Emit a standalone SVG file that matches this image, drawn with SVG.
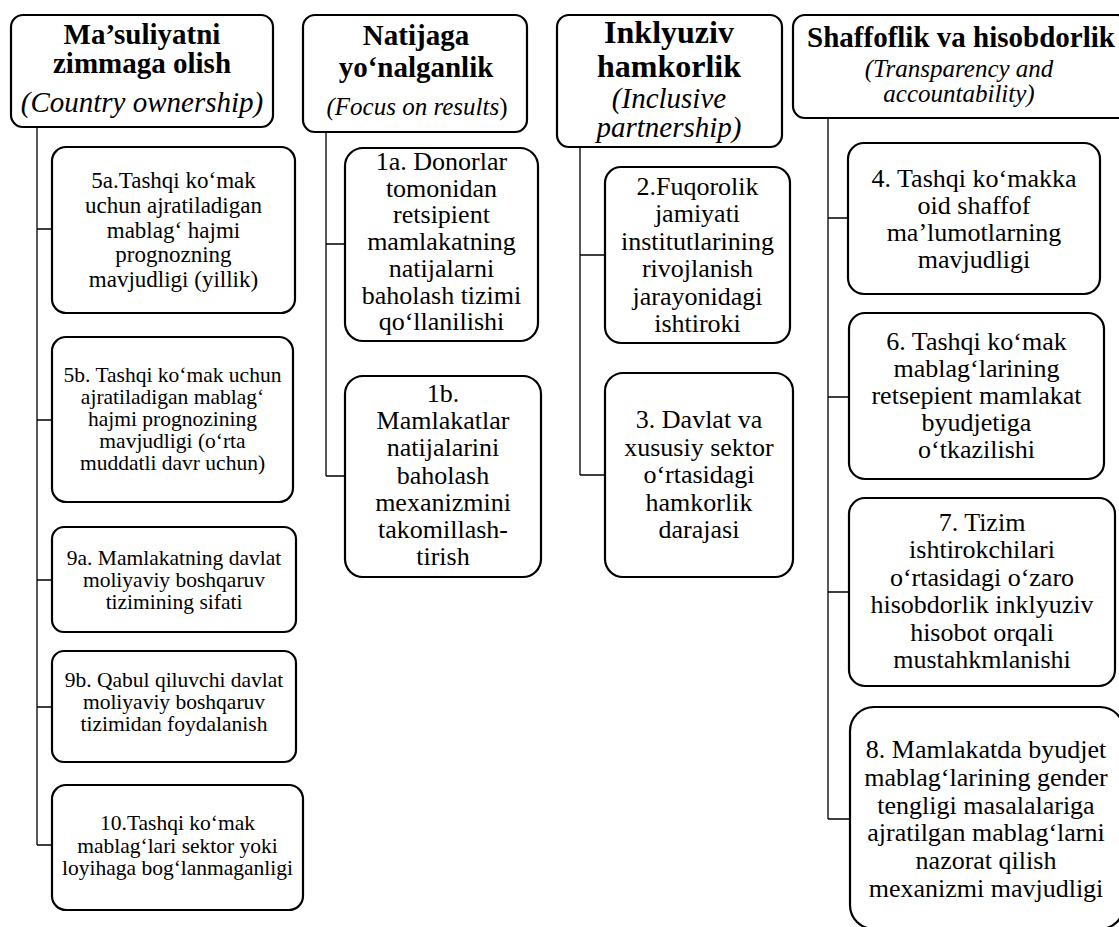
<svg xmlns="http://www.w3.org/2000/svg" width="1119" height="927" viewBox="0 0 1119 927">
  <style>
    .box { fill: #ffffff; stroke: #000000; stroke-width: 2.2; }
    .link { fill: none; stroke: #000000; stroke-width: 1.3; }
    .hb { font-weight: bold; }
    .hi { font-style: italic; }
    .c1 { font-size: 21.5px; }
    .c1a { font-size: 23px; }
    .cx { font-size: 26px; }
  </style>
  <rect width="1119" height="927" fill="#ffffff"/>

  <!-- tree connectors -->
  <g id="connectors">
    <path class="link" d="M37 127 V845 M37 229 H52 M37 420 H52 M37 580 H52 M37 707 H52 M37 845 H52"/>
    <path class="link" d="M326 132 V476 M326 244 H345 M326 476 H345"/>
    <path class="link" d="M580 147 V475 M580 255 H605 M580 475 H605"/>
    <path class="link" d="M828 118 V819 M828 218 H849 M828 397 H849 M828 592 H849 M828 819 H850"/>
  </g>

  <g font-family="Liberation Serif, Tinos, DejaVu Serif, Times New Roman, serif" text-anchor="middle" fill="#000000">
  <!-- column headers -->
  <g id="head-ownership">
    <rect class="box" x="11" y="15" width="262" height="112" rx="12"/>
    <text class="hb" font-size="29"><tspan x="142" y="44">Ma’suliyatni</tspan><tspan x="142" y="73">zimmaga olish</tspan></text>
    <text class="hi" font-size="29" x="142" y="112">(Country ownership)</text>
  </g>
  <g id="head-results">
    <rect class="box" x="303" y="15" width="224" height="117" rx="12"/>
    <text class="hb" font-size="29"><tspan x="416" y="45">Natijaga</tspan><tspan x="416" y="77">yo‘nalganlik</tspan></text>
    <text class="hi" font-size="25" x="417" y="115">(Focus on results<tspan font-style="normal">)</tspan></text>
  </g>
  <g id="head-partnership">
    <rect class="box" x="557" y="15" width="225" height="132" rx="12"/>
    <text class="hb" font-size="32"><tspan x="669" y="43">Inklyuziv</tspan><tspan x="669" y="77">hamkorlik</tspan></text>
    <text class="hi" font-size="29"><tspan x="669" y="108">(Inclusive</tspan><tspan x="669" y="137">partnership)</tspan></text>
  </g>
  <g id="head-transparency">
    <rect class="box" x="793" y="15" width="336" height="103" rx="12"/>
    <text class="hb" font-size="29" x="961" y="47">Shaffoflik va hisobdorlik</text>
    <text class="hi" font-size="25"><tspan x="959" y="77">(Transparency and</tspan><tspan x="959" y="102">accountability)</tspan></text>
  </g>

  <!-- column 1 -->
  <g id="n5a">
    <rect class="box" x="52" y="147" width="243" height="166" rx="14"/>
    <text class="c1a"><tspan x="173.5" y="188">5a.Tashqi ko‘mak</tspan><tspan x="173.5" y="212.7">uchun ajratiladigan</tspan><tspan x="173.5" y="237.5">mablag‘ hajmi</tspan><tspan x="173.5" y="262.2">prognozning</tspan><tspan x="173.5" y="287">mavjudligi (yillik)</tspan></text>
  </g>
  <g id="n5b">
    <rect class="box" x="52" y="337" width="241" height="165" rx="14"/>
    <text class="c1"><tspan x="172.5" y="382">5b. Tashqi ko‘mak uchun</tspan><tspan x="172.5" y="404">ajratiladigan mablag‘</tspan><tspan x="172.5" y="426">hajmi prognozining</tspan><tspan x="172.5" y="448">mavjudligi (o‘rta</tspan><tspan x="172.5" y="470">muddatli davr uchun)</tspan></text>
  </g>
  <g id="n9a">
    <rect class="box" x="52" y="527" width="244" height="105" rx="12"/>
    <text class="c1"><tspan x="174" y="565">9a. Mamlakatning davlat</tspan><tspan x="174" y="587">moliyaviy boshqaruv</tspan><tspan x="174" y="609">tizimining sifati</tspan></text>
  </g>
  <g id="n9b">
    <rect class="box" x="52" y="651" width="244" height="111" rx="12"/>
    <text class="c1"><tspan x="174" y="687">9b. Qabul qiluvchi davlat</tspan><tspan x="174" y="709">moliyaviy boshqaruv</tspan><tspan x="174" y="731">tizimidan foydalanish</tspan></text>
  </g>
  <g id="n10">
    <rect class="box" x="52" y="785" width="251" height="125" rx="14"/>
    <text class="c1"><tspan x="177.5" y="830">10.Tashqi ko‘mak</tspan><tspan x="177.5" y="852.5">mablag‘lari sektor yoki</tspan><tspan x="177.5" y="875">loyihaga bog‘lanmaganligi</tspan></text>
  </g>

  <!-- column 2 -->
  <g id="n1a">
    <rect class="box" x="345" y="148" width="193" height="193" rx="18"/>
    <text class="cx"><tspan x="441.5" y="170">1a. Donorlar</tspan><tspan x="441.5" y="196.7">tomonidan</tspan><tspan x="441.5" y="223.4">retsipient</tspan><tspan x="441.5" y="250.1">mamlakatning</tspan><tspan x="441.5" y="276.8">natijalarni</tspan><tspan x="441.5" y="303.5">baholash tizimi</tspan><tspan x="441.5" y="330.2">qo‘llanilishi</tspan></text>
  </g>
  <g id="n1b">
    <rect class="box" x="345" y="376" width="196" height="201" rx="18"/>
    <text class="cx"><tspan x="443" y="402">1b.</tspan><tspan x="443" y="429.2">Mamlakatlar</tspan><tspan x="443" y="456.4">natijalarini</tspan><tspan x="443" y="483.6">baholash</tspan><tspan x="443" y="510.8">mexanizmini</tspan><tspan x="443" y="538">takomillash-</tspan><tspan x="443" y="565">tirish</tspan></text>
  </g>

  <!-- column 3 -->
  <g id="n2">
    <rect class="box" x="605" y="167" width="185" height="176" rx="16"/>
    <text class="cx"><tspan x="697.5" y="195">2.Fuqorolik</tspan><tspan x="697.5" y="222.4">jamiyati</tspan><tspan x="697.5" y="249.8">institutlarining</tspan><tspan x="697.5" y="277.2">rivojlanish</tspan><tspan x="697.5" y="304.6">jarayonidagi</tspan><tspan x="697.5" y="332">ishtiroki</tspan></text>
  </g>
  <g id="n3">
    <rect class="box" x="605" y="373" width="188" height="204" rx="18"/>
    <text class="cx"><tspan x="699" y="428">3. Davlat va</tspan><tspan x="699" y="455.5">xususiy sektor</tspan><tspan x="699" y="483">o‘rtasidagi</tspan><tspan x="699" y="510.5">hamkorlik</tspan><tspan x="699" y="538">darajasi</tspan></text>
  </g>

  <!-- column 4 -->
  <g id="n4">
    <rect class="box" x="848" y="143" width="252" height="151" rx="16"/>
    <text class="cx"><tspan x="974" y="186.5">4. Tashqi ko‘makka</tspan><tspan x="974" y="213.5">oid shaffof</tspan><tspan x="974" y="240.5">ma’lumotlarning</tspan><tspan x="974" y="267.5">mavjudligi</tspan></text>
  </g>
  <g id="n6">
    <rect class="box" x="849" y="313" width="255" height="166" rx="16"/>
    <text class="cx"><tspan x="976.5" y="350">6. Tashqi ko‘mak</tspan><tspan x="976.5" y="377">mablag‘larining</tspan><tspan x="976.5" y="404">retsepient mamlakat</tspan><tspan x="976.5" y="431">byudjetiga</tspan><tspan x="976.5" y="458">o‘tkazilishi</tspan></text>
  </g>
  <g id="n7">
    <rect class="box" x="849" y="498" width="266" height="188" rx="16"/>
    <text class="cx"><tspan x="982" y="530.5">7. Tizim</tspan><tspan x="982" y="558">ishtirokchilari</tspan><tspan x="982" y="585.5">o‘rtasidagi o‘zaro</tspan><tspan x="982" y="613">hisobdorlik inklyuziv</tspan><tspan x="982" y="640.5">hisobot orqali</tspan><tspan x="982" y="668">mustahkmlanishi</tspan></text>
  </g>
  <g id="n8">
    <rect class="box" x="850" y="707" width="274" height="222" rx="24"/>
    <text class="cx"><tspan x="986" y="758">8. Mamlakatda byudjet</tspan><tspan x="986" y="785.8">mablag‘larining gender</tspan><tspan x="986" y="813.6">tengligi masalalariga</tspan><tspan x="986" y="841.4">ajratilgan mablag‘larni</tspan><tspan x="986" y="869.2">nazorat qilish</tspan><tspan x="986" y="897">mexanizmi mavjudligi</tspan></text>
  </g>
  </g>
</svg>
